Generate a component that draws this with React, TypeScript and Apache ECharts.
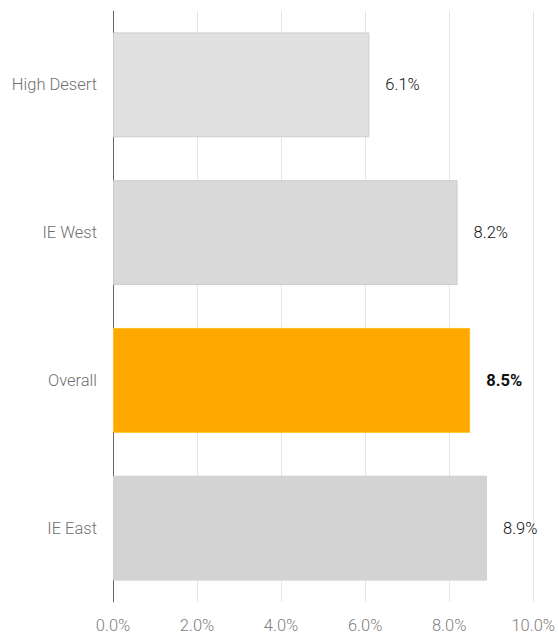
import React, { useEffect, useRef } from "react";
import * as echarts from "echarts";

const categories = ["High Desert", "IE West", "Overall", "IE East"];
const values = [6.1, 8.2, 8.5, 8.9];
const highlight = "Overall";
const xTicks = { min: 0, max: 10, interval: 2 };

const fills = ["#e0e0e0", "#d9d9d9", "#ffa800", "#d3d3d3"];
const borders = ["#cdcdcd", "#cccccc", "#ffc21a", "#d0d0d0"];

export default function App() {
  const ref = useRef<HTMLDivElement>(null);
  useEffect(() => {
    const chart = echarts.init(ref.current!, undefined, { renderer: "svg" });
    chart.setOption({
      animation: false,
      textStyle: { fontFamily: "Roboto" },
      grid: { left: 113, right: 20, top: 11, bottom: 33, containLabel: false },
      xAxis: {
        type: "value",
        min: xTicks.min,
        max: xTicks.max,
        interval: xTicks.interval,
        axisLine: { show: false },
        axisTick: { show: false },
        splitLine: { show: true, lineStyle: { color: "#e6e6e6", width: 1 } },
        axisLabel: {
          formatter: (v: number) => v.toFixed(1) + "%",
          color: "#808080",
          fontSize: 16.5,
          margin: 15,
          fontFamily: "Roboto",
          fontWeight: 300,
        },
      },
      yAxis: {
        type: "category",
        data: categories,
        inverse: true,
        axisLine: { show: true, lineStyle: { color: "#666", width: 1 } },
        axisTick: { show: false },
        axisLabel: { color: "#707070", fontSize: 16.5, margin: 16, fontFamily: "Roboto", fontWeight: 300 },
      },
      series: [
        {
          type: "bar",
          barCategoryGap: "29%",
          data: values.map((v, i) => ({
            value: v,
            itemStyle: { color: fills[i], borderColor: borders[i], borderWidth: 1 },
            label: {
              show: true,
              position: "right",
              distance: 16,
              formatter: (p: any) => p.value.toFixed(1) + "%",
              fontSize: 16.5,
              color: "#111",
              fontWeight: categories[i] === highlight ? "bold" : 300,
              fontFamily: "Roboto",
            },
          })),
        },
      ],
    });
    return () => chart.dispose();
  }, []);
  return (
    <div
      ref={ref}
      style={{ position: "absolute", left: 0, top: 0, width: 558, height: 635, background: "#fff" }}
    />
  );
}
